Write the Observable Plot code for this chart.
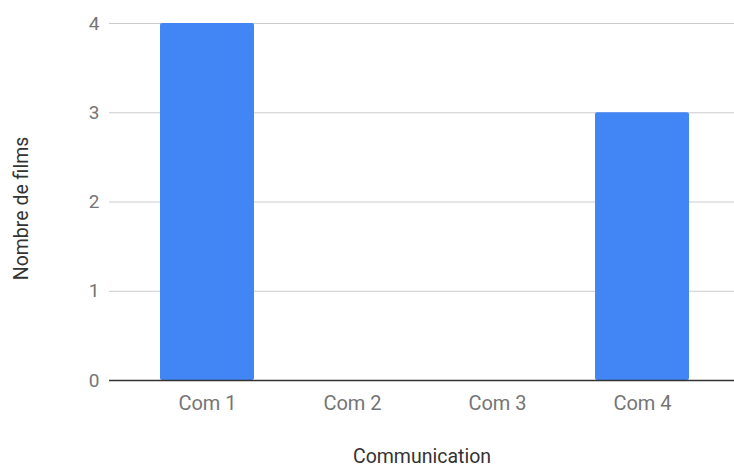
<!DOCTYPE html>
<html><head><meta charset="utf-8">
<script src="https://cdn.jsdelivr.net/npm/d3@7"></script>
<script src="https://cdn.jsdelivr.net/npm/@observablehq/plot@0.6"></script>
<style>body{margin:0;background:#fff;font-family:Roboto,sans-serif}</style>
</head><body><div id="chart"></div>
<script>
const categories = ["Com 1", "Com 2", "Com 3", "Com 4"];
const values = [4, 0, 0, 3];
const yTicks = [0, 1, 2, 3, 4];
const data = categories.map((c, i) => ({cat: c, n: values[i]}));

const chart = Plot.plot({
  width: 734, height: 468,
  marginLeft: 109, marginRight: 0, marginTop: 23, marginBottom: 88,
  style: {fontFamily: "Roboto, sans-serif", background: "#fff"},
  x: {domain: categories, range: [134, 716], paddingInner: 0.35, paddingOuter: 0.175, label: null},
  y: {domain: [0, 4], ticks: yTicks, label: null},
  marks: [
    Plot.gridY(yTicks, {stroke: "#cccccc", strokeOpacity: 1}),
    Plot.barY(data, {x: "cat", y: "n", fill: "#4285f4", rx: 2}),
    Plot.ruleY([0], {stroke: "#333", strokeWidth: 1.5}),
    Plot.axisY(yTicks, {tickSize: 0, tickPadding: 10, fontSize: 19, fill: "#757575", label: null, tickFormat: d3.format("d")}),
    Plot.axisX({tickSize: 0, tickPadding: 15, fontSize: 20, fill: "#757575", label: null}),
    Plot.text(["Communication"], {frameAnchor: "bottom", dy: 82, fontSize: 19.5, fill: "#333"}),
    Plot.text(["Nombre de films"], {frameAnchor: "left", textAnchor: "middle", dx: -88, dy: 6.5, rotate: -90, fontSize: 19.5, fill: "#333"})
  ]
});
document.getElementById("chart").append(chart);
</script></body></html>
